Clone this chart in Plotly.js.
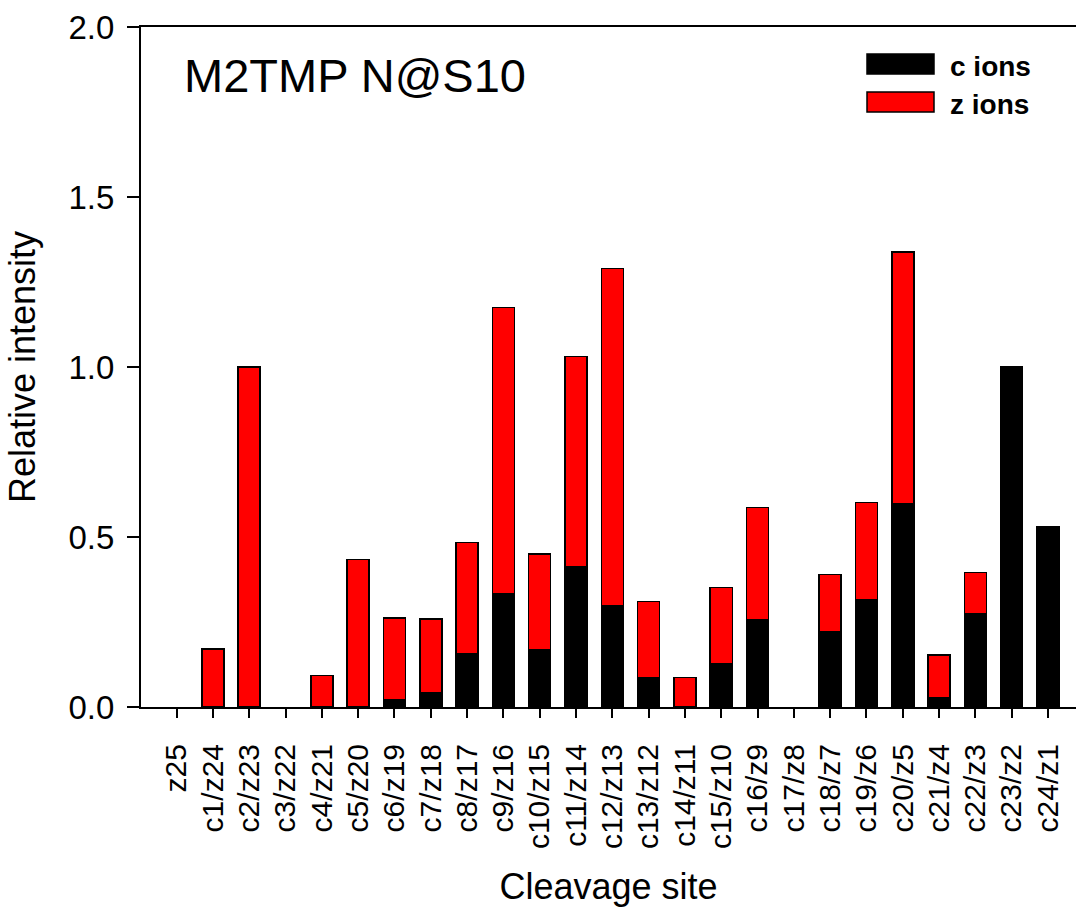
<!DOCTYPE html>
<html>
<head>
<meta charset="utf-8">
<script src="https://cdn.plot.ly/plotly-3.0.1.min.js"></script>
<style>
  html, body { margin: 0; padding: 0; background: #ffffff; overflow: hidden; }
  #chart { width: 1076px; height: 911px; }
</style>
</head>
<body>
<div id="chart"></div>
<script>
// Cleavage sites (x categories)
const categories = ['z25', 'c1/z24', 'c2/z23', 'c3/z22', 'c4/z21', 'c5/z20', 'c6/z19', 'c7/z18',
  'c8/z17', 'c9/z16', 'c10/z15', 'c11/z14', 'c12/z13', 'c13/z12', 'c14/z11', 'c15/z10',
  'c16/z9', 'c17/z8', 'c18/z7', 'c19/z6', 'c20/z5', 'c21/z4', 'c22/z3', 'c23/z2', 'c24/z1'];

// Relative intensity of c ions (bottom of each stack)
const cIons = [0, 0, 0, 0, 0, 0, 0.020, 0.043, 0.157, 0.332, 0.167, 0.412, 0.297, 0.085, 0,
  0.128, 0.257, 0, 0.220, 0.315, 0.598, 0.026, 0.273, 1.000, 0.531];

// Relative intensity of z ions (stacked on top)
const zIons = [0, 0.171, 1.000, 0, 0.093, 0.434, 0.242, 0.216, 0.327, 0.843, 0.283, 0.619, 0.993,
  0.225, 0.087, 0.224, 0.330, 0, 0.169, 0.287, 0.740, 0.127, 0.122, 0, 0];

const yTicks = [0, 0.5, 1.0, 1.5, 2.0];
const yTickText = ['0.0', '0.5', '1.0', '1.5', '2.0'];

const seriesNames = ['c ions', 'z ions'];
const seriesColors = ['#000000', '#ff0000'];

// zero intensities are not drawn as bars
const noZero = (arr) => arr.map(v => (v === 0 ? null : v));

const traces = [
  {
    type: 'bar', name: seriesNames[0], x: categories, y: noZero(cIons),
    marker: { color: seriesColors[0], line: { color: '#000000', width: 1.5 } },
    showlegend: false, hoverinfo: 'x+y+name'
  },
  {
    type: 'bar', name: seriesNames[1], x: categories, y: noZero(zIons),
    marker: { color: seriesColors[1], line: { color: '#000000', width: 1.5 } },
    showlegend: false, hoverinfo: 'x+y+name'
  }
];

// plot area in pixels: left 141, right 1076, top 27, bottom 707
const L = 141, R = 1076, T = 27, B = 707;
const px = (x) => (x - L) / (R - L);
const py = (y) => (B - y) / (B - T);

const legendShapes = [
  { type: 'rect', xref: 'paper', yref: 'paper', x0: px(867), x1: px(934), y0: py(74), y1: py(54),
    fillcolor: seriesColors[0], line: { color: '#000000', width: 1.5 } },
  { type: 'rect', xref: 'paper', yref: 'paper', x0: px(867), x1: px(934), y0: py(112), y1: py(92),
    fillcolor: seriesColors[1], line: { color: '#000000', width: 1.5 } }
];

const legendLabels = [
  { xref: 'paper', yref: 'paper', x: px(948), y: py(66), xanchor: 'left', yanchor: 'middle',
    text: '<b>' + seriesNames[0] + '</b>', showarrow: false,
    font: { family: 'Liberation Sans, Arial, sans-serif', size: 28, color: '#000000' } },
  { xref: 'paper', yref: 'paper', x: px(948), y: py(104), xanchor: 'left', yanchor: 'middle',
    text: '<b>' + seriesNames[1] + '</b>', showarrow: false,
    font: { family: 'Liberation Sans, Arial, sans-serif', size: 28, color: '#000000' } }
];

const layout = {
  width: 1076, height: 911,
  margin: { l: L, r: 1076 - R, t: T, b: 911 - B, pad: 0 },
  paper_bgcolor: '#ffffff', plot_bgcolor: '#ffffff',
  barmode: 'stack', bargap: 0.394,
  showlegend: false,
  title: {
    text: 'M2TMP N@S10', xref: 'paper', yref: 'paper', x: px(184), xanchor: 'left',
    y: py(76), yanchor: 'middle',
    font: { family: 'Liberation Sans, Arial, sans-serif', size: 47, color: '#000000' }
  },
  xaxis: {
    type: 'category', range: [-0.98, 24.77],
    showline: true, linecolor: '#000000', linewidth: 2, mirror: true,
    showgrid: false, zeroline: false,
    ticks: 'outside', ticklen: 9, tickwidth: 2, tickcolor: '#000000',
    tickangle: -90, ticklabelstandoff: 14,
    tickfont: { family: 'Liberation Sans, Arial, sans-serif', size: 30, color: '#000000' },
    title: { text: 'Cleavage site', standoff: 26,
      font: { family: 'Liberation Sans, Arial, sans-serif', size: 36, color: '#000000' } }
  },
  yaxis: {
    range: [0, 2], tickvals: yTicks, ticktext: yTickText,
    showline: true, linecolor: '#000000', linewidth: 2, mirror: false,
    showgrid: false, zeroline: false,
    ticks: 'outside', ticklen: 12, tickwidth: 2, tickcolor: '#000000',
    ticklabelstandoff: 6,
    tickfont: { family: 'Liberation Sans, Arial, sans-serif', size: 33, color: '#000000' },
    title: { text: 'Relative intensity', standoff: 22,
      font: { family: 'Liberation Sans, Arial, sans-serif', size: 36, color: '#000000' } }
  },
  shapes: legendShapes,
  annotations: legendLabels
};

Plotly.newPlot('chart', traces, layout, { displayModeBar: false, staticPlot: true });
</script>
</body>
</html>
